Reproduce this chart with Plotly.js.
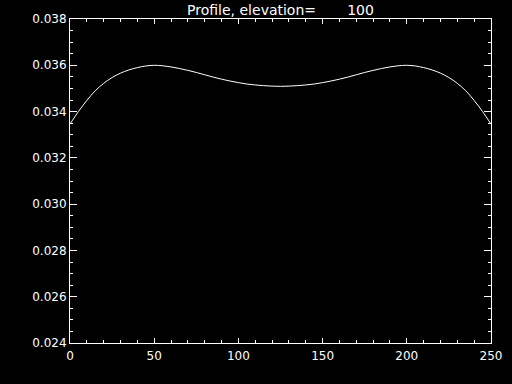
<!DOCTYPE html>
<html>
<head>
<meta charset="utf-8">
<script src="https://cdn.plot.ly/plotly-3.0.1.min.js"></script>
<style>html,body{margin:0;padding:0;background:#000;}#chart{width:512px;height:384px;}</style>
</head>
<body>
<div id="chart"></div>
<script>
// Profile position (x) and value (y)
const positions = [0,5,10,15,20,25,30,35,40,45,50,55,60,65,70,75,80,85,90,95,100,105,110,115,120,125,
  130,135,140,145,150,155,160,165,170,175,180,185,190,195,200,205,210,215,220,225,230,235,240,245,250];
const profile = [0.03346,0.03400,0.03448,0.03490,0.03522,0.03547,0.03566,0.03580,0.03590,0.03597,0.03600,
  0.03598,0.03593,0.03586,0.03578,0.03569,0.03559,0.03549,0.03540,0.03532,0.03525,0.03519,0.03515,0.03512,0.03510,0.03509,
  0.03510,0.03512,0.03515,0.03519,0.03525,0.03532,0.03540,0.03549,0.03559,0.03569,0.03578,0.03586,0.03593,0.03598,0.03600,
  0.03597,0.03590,0.03580,0.03566,0.03547,0.03522,0.03490,0.03448,0.03400,0.03346];
const titleText = 'Profile, elevation=\u00a0\u00a0\u00a0\u00a0\u00a0\u00a0\u00a0100';
const xRange = [0, 250];
const yRange = [0.024, 0.038];

const font = {family: 'DejaVu Sans', size: 12, color: '#ffffff'};
const axisCommon = {
  showgrid: false, zeroline: false, showline: true, linecolor: '#ffffff', linewidth: 1,
  mirror: 'allticks', ticks: 'inside', tickcolor: '#ffffff', tickwidth: 1,
  tickfont: font
};

Plotly.newPlot('chart', [{
  x: positions, y: profile, type: 'scatter', mode: 'lines',
  line: {color: '#ffffff', width: 1, shape: 'spline'}
}], {
  width: 512, height: 384,
  paper_bgcolor: '#000000', plot_bgcolor: '#000000',
  margin: {l: 70, r: 21, t: 19, b: 41},
  showlegend: false,
  font: font,
  title: {text: titleText, font: {family: 'DejaVu Sans', size: 14, color: '#ffffff'},
    x: 0.5, xref: 'paper', y: 0.974, yref: 'container', yanchor: 'middle'},
  xaxis: Object.assign({}, axisCommon, {
    range: xRange, tick0: 0, dtick: 50, ticklen: 5, ticklabelstandoff: 2,
    minor: {dtick: 10, ticklen: 3, ticks: 'inside', tickcolor: '#ffffff', showgrid: false}
  }),
  yaxis: Object.assign({}, axisCommon, {
    range: yRange, tick0: 0.024, dtick: 0.002, ticklen: 7, tickformat: '.3f',
    minor: {dtick: 0.0005, ticklen: 3, ticks: 'inside', tickcolor: '#ffffff', showgrid: false}
  })
}, {staticPlot: true});
</script>
</body>
</html>
